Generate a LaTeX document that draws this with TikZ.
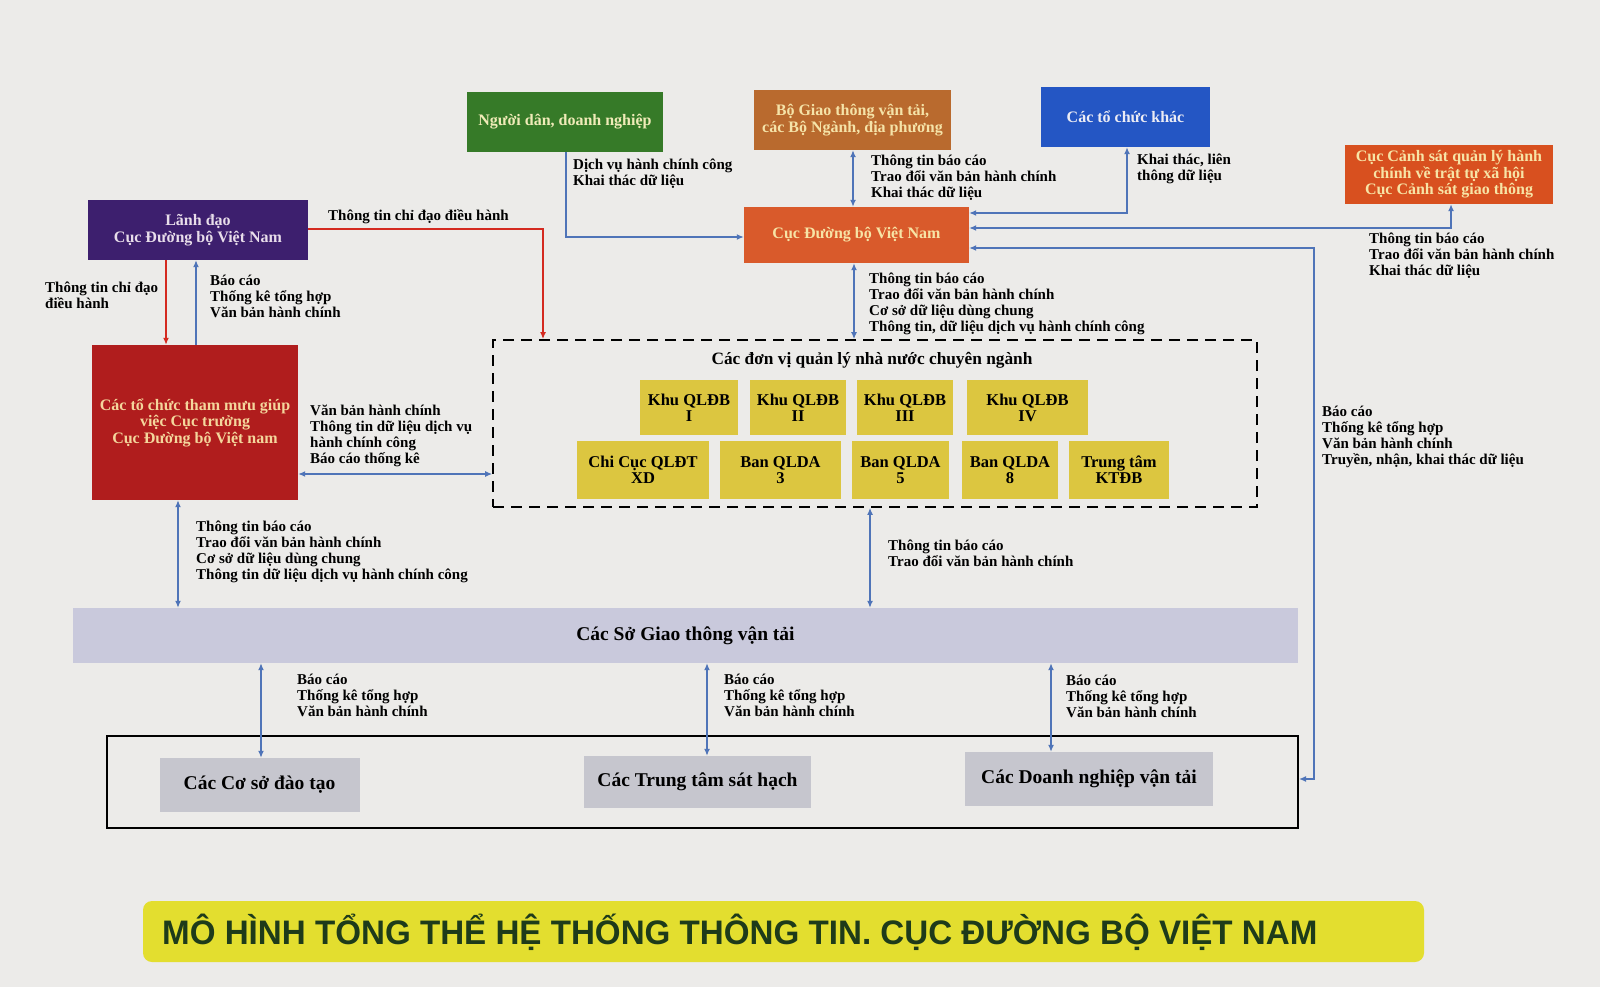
\documentclass[tikz,border=0pt]{standalone}
\usepackage{fontspec}
\setmainfont{Liberation Serif}
\newfontfamily\titlefont{Liberation Sans}
\usetikzlibrary{arrows.meta}
\definecolor{bg}{HTML}{ECEBE9}
\definecolor{cgreen}{HTML}{367A28}
\definecolor{tgreen}{HTML}{F0EBB8}
\definecolor{cbrown}{HTML}{B96A2E}
\definecolor{tbrown}{HTML}{F5E3A8}
\definecolor{cblue}{HTML}{2456C4}
\definecolor{tblue}{HTML}{ECECF4}
\definecolor{corange}{HTML}{D8501F}
\definecolor{corangeb}{HTML}{D95A2B}
\definecolor{tyel}{HTML}{F7E4A6}
\definecolor{cpurple}{HTML}{3D1F6E}
\definecolor{tpurple}{HTML}{E8DDEA}
\definecolor{cred}{HTML}{B01D1D}
\definecolor{tred}{HTML}{F4D69C}
\definecolor{yel}{HTML}{DCC640}
\definecolor{clav}{HTML}{C9C9DC}
\definecolor{grayb}{HTML}{C6C6CE}
\definecolor{ctitle}{HTML}{E3DE2F}
\definecolor{ttitle}{HTML}{1E3B1A}
\definecolor{lnblue}{HTML}{4F74B8}
\definecolor{lnred}{HTML}{D42A20}
\begin{document}
\begin{tikzpicture}[x=1pt,y=-1pt,
  cbox/.style={inner sep=2pt, align=center, font=\bfseries\fontsize{16}{16.5}\selectfont},
  ybox/.style={fill=yel, inner sep=1pt, align=center, text=black, font=\bfseries\fontsize{16.5}{16}\selectfont},
  gbox/.style={fill=grayb, inner sep=1pt, align=center, text=black, font=\bfseries\fontsize{19.5}{20}\selectfont},
  lbl/.style={anchor=north west, inner sep=0pt, align=left, font=\bfseries\fontsize{15}{15.8}\selectfont},
  bl/.style={draw=lnblue, line width=1.3pt},
  rl/.style={draw=lnred, line width=1.5pt},
  onetip/.style={-{Latex[length=7pt,width=6pt]}},
  twotip/.style={{Latex[length=7pt,width=6pt]}-{Latex[length=7pt,width=6pt]}},
]
\fill[bg] (0,0) rectangle (1600,987);
\useasboundingbox (0,0) rectangle (1600,987);

% top boxes
\node[cbox, fill=cgreen, text=tgreen, minimum width=196pt, minimum height=60pt] (nguoidan) at (565,122) {Người dân, doanh nghiệp};
\node[cbox, fill=cbrown, text=tbrown, minimum width=197pt, minimum height=60pt] (bogtvt) at (852.5,120) {Bộ Giao thông vận tải,\\các Bộ Ngành, địa phương};
\node[cbox, fill=cblue, text=tblue, minimum width=169pt, minimum height=60pt] (tckhac) at (1125.5,117) {Các tổ chức khác};
\node[cbox, fill=corange, text=tyel, minimum width=208pt, minimum height=59pt] (canhsat) at (1449,174.5) {Cục Cảnh sát quản lý hành\\chính về trật tự xã hội\\Cục Cảnh sát giao thông};
\node[cbox, fill=corangeb, text=tyel, minimum width=225pt, minimum height=56pt] (cucdb) at (856.5,235) {Cục Đường bộ Việt Nam};
\node[cbox, fill=cpurple, text=tpurple, minimum width=220pt, minimum height=60pt] (lanhdao) at (198,230) {Lãnh đạo\\Cục Đường bộ Việt Nam};
\node[cbox, fill=cred, text=tred, minimum width=206pt, minimum height=155pt] (thammuu) at (195,422.5) {Các tổ chức tham mưu giúp\\việc Cục trưởng\\Cục Đường bộ Việt nam};

% dashed group
\node[draw=black, line width=1.8pt, dash pattern=on 11pt off 7pt, minimum width=764pt, minimum height=167pt, inner sep=0pt] (donvi) at (875,423.5) {};
\node[inner sep=0pt, font=\bfseries\fontsize{17.3}{18}\selectfont] (donvititle) at (872,360) {Các đơn vị quản lý nhà nước chuyên ngành};
\node[ybox, minimum width=98pt, minimum height=55pt] (khu1) at (689,407.5) {Khu QLĐB\\I};
\node[ybox, minimum width=96pt, minimum height=55pt] (khu2) at (798,407.5) {Khu QLĐB\\II};
\node[ybox, minimum width=96pt, minimum height=55pt] (khu3) at (905,407.5) {Khu QLĐB\\III};
\node[ybox, minimum width=121pt, minimum height=55pt] (khu4) at (1027.5,407.5) {Khu QLĐB\\IV};
\node[ybox, minimum width=132pt, minimum height=58pt] (chicuc) at (643,470) {Chi Cục QLĐT\\XD};
\node[ybox, minimum width=121pt, minimum height=58pt] (ban3) at (780.5,470) {Ban QLDA\\3};
\node[ybox, minimum width=97pt, minimum height=58pt] (ban5) at (900.5,470) {Ban QLDA\\5};
\node[ybox, minimum width=96pt, minimum height=58pt] (ban8) at (1010,470) {Ban QLDA\\8};
\node[ybox, minimum width=100pt, minimum height=58pt] (ttam) at (1119,470) {Trung tâm\\KTĐB};

% lower part
\node[gbox, fill=clav, minimum width=1225pt, minimum height=55pt] (so) at (685.5,635.5) {Các Sở Giao thông vận tải};
\node[draw=black, line width=2pt, minimum width=1191pt, minimum height=92pt, inner sep=0pt] (frame) at (702.5,782) {};
\node[gbox, minimum width=200pt, minimum height=54pt] (csdt) at (259.5,785) {Các Cơ sở đào tạo};
\node[gbox, minimum width=227pt, minimum height=52pt] (ttsh) at (697.5,782) {Các Trung tâm sát hạch};
\node[gbox, minimum width=248pt, minimum height=54pt] (dnvt) at (1089,779) {Các Doanh nghiệp vận tải};

% title band
\node[fill=ctitle, rounded corners=9pt, minimum width=1281pt, minimum height=61pt, inner sep=0pt] (band) at (783.5,931.5) {};
\node[anchor=west, inner sep=0pt, text=ttitle, font=\titlefont\bfseries\fontsize{34}{36}\selectfont] (title) at (162,932) {\scalebox{0.975}[1]{MÔ HÌNH TỔNG THỂ HỆ THỐNG THÔNG TIN. CỤC ĐƯỜNG BỘ VIỆT NAM}};

% connector coordinates
\coordinate (nd) at (566,237);
\coordinate (bgx) at (853,0);
\coordinate (tk) at (1127,213);
\coordinate (cs) at (1451,228);
\coordinate (rc) at (1314,779);
\coordinate (cd) at (854,0);
\coordinate (rdl) at (543,229);
\coordinate (rd2) at (166,0);
\coordinate (bu1) at (196,0);
\coordinate (tmd) at (0,474);
\coordinate (tms) at (178,0);
\coordinate (dvs) at (870,0);
\coordinate (s1) at (261,0);
\coordinate (s2) at (707,0);
\coordinate (s3) at (1051,0);

% connectors
\draw[bl,onetip] (nguoidan.south -| nd) |- (nd -| cucdb.west);
\draw[bl,twotip] (bogtvt.south -| bgx) -- (cucdb.north -| bgx);
\draw[bl,twotip] (tckhac.south -| tk) |- (tk -| cucdb.east);
\draw[bl,twotip] (canhsat.south -| cs) |- (cs -| cucdb.east);
\draw[bl,twotip] ([yshift=-13pt]cucdb.east) -| (rc) -- (rc -| frame.east);
\draw[bl,twotip] (cucdb.south -| cd) -- (donvi.north -| cd);
\draw[rl,onetip] (lanhdao.east |- rdl) -| (donvi.north -| rdl);
\draw[rl,onetip] (lanhdao.south -| rd2) -- (thammuu.north -| rd2);
\draw[bl,onetip] (thammuu.north -| bu1) -- (lanhdao.south -| bu1);
\draw[bl,twotip] (thammuu.east |- tmd) -- (donvi.west |- tmd);
\draw[bl,twotip] (thammuu.south -| tms) -- (so.north -| tms);
\draw[bl,twotip] (donvi.south -| dvs) -- (so.north -| dvs);
\draw[bl,twotip] (so.south -| s1) -- (csdt.north -| s1);
\draw[bl,twotip] (so.south -| s2) -- (ttsh.north -| s2);
\draw[bl,twotip] (so.south -| s3) -- (dnvt.north -| s3);

% labels
\node[lbl] (l1) at (573,159) {Dịch vụ hành chính công\\Khai thác dữ liệu};
\node[lbl] (l2) at (871,155) {Thông tin báo cáo\\Trao đổi văn bản hành chính\\Khai thác dữ liệu};
\node[lbl] (l3) at (1137,154) {Khai thác, liên\\thông dữ liệu};
\node[lbl] (l4) at (1369,233) {Thông tin báo cáo\\Trao đổi văn bản hành chính\\Khai thác dữ liệu};
\node[lbl] (l5) at (1322,406) {Báo cáo\\Thống kê tổng hợp\\Văn bản hành chính\\Truyền, nhận, khai thác dữ liệu};
\node[lbl] (l6) at (869,273) {Thông tin báo cáo\\Trao đổi văn bản hành chính\\Cơ sở dữ liệu dùng chung\\Thông tin, dữ liệu dịch vụ hành chính công};
\node[lbl] (l7) at (328,209) {Thông tin chỉ đạo điều hành};
\node[lbl] (l8) at (45,282) {Thông tin chỉ đạo\\điều hành};
\node[lbl] (l9) at (210,275) {Báo cáo\\Thống kê tổng hợp\\Văn bản hành chính};
\node[lbl] (l10) at (310,405) {Văn bản hành chính\\Thông tin dữ liệu dịch vụ\\hành chính công\\Báo cáo thống kê};
\node[lbl] (l11) at (196,521) {Thông tin báo cáo\\Trao đổi văn bản hành chính\\Cơ sở dữ liệu dùng chung\\Thông tin dữ liệu dịch vụ hành chính công};
\node[lbl] (l12) at (888,540) {Thông tin báo cáo\\Trao đổi văn bản hành chính};
\node[lbl] (l13) at (297,674) {Báo cáo\\Thống kê tổng hợp\\Văn bản hành chính};
\node[lbl] (l14) at (724,674) {Báo cáo\\Thống kê tổng hợp\\Văn bản hành chính};
\node[lbl] (l15) at (1066,675) {Báo cáo\\Thống kê tổng hợp\\Văn bản hành chính};
\end{tikzpicture}
\end{document}
